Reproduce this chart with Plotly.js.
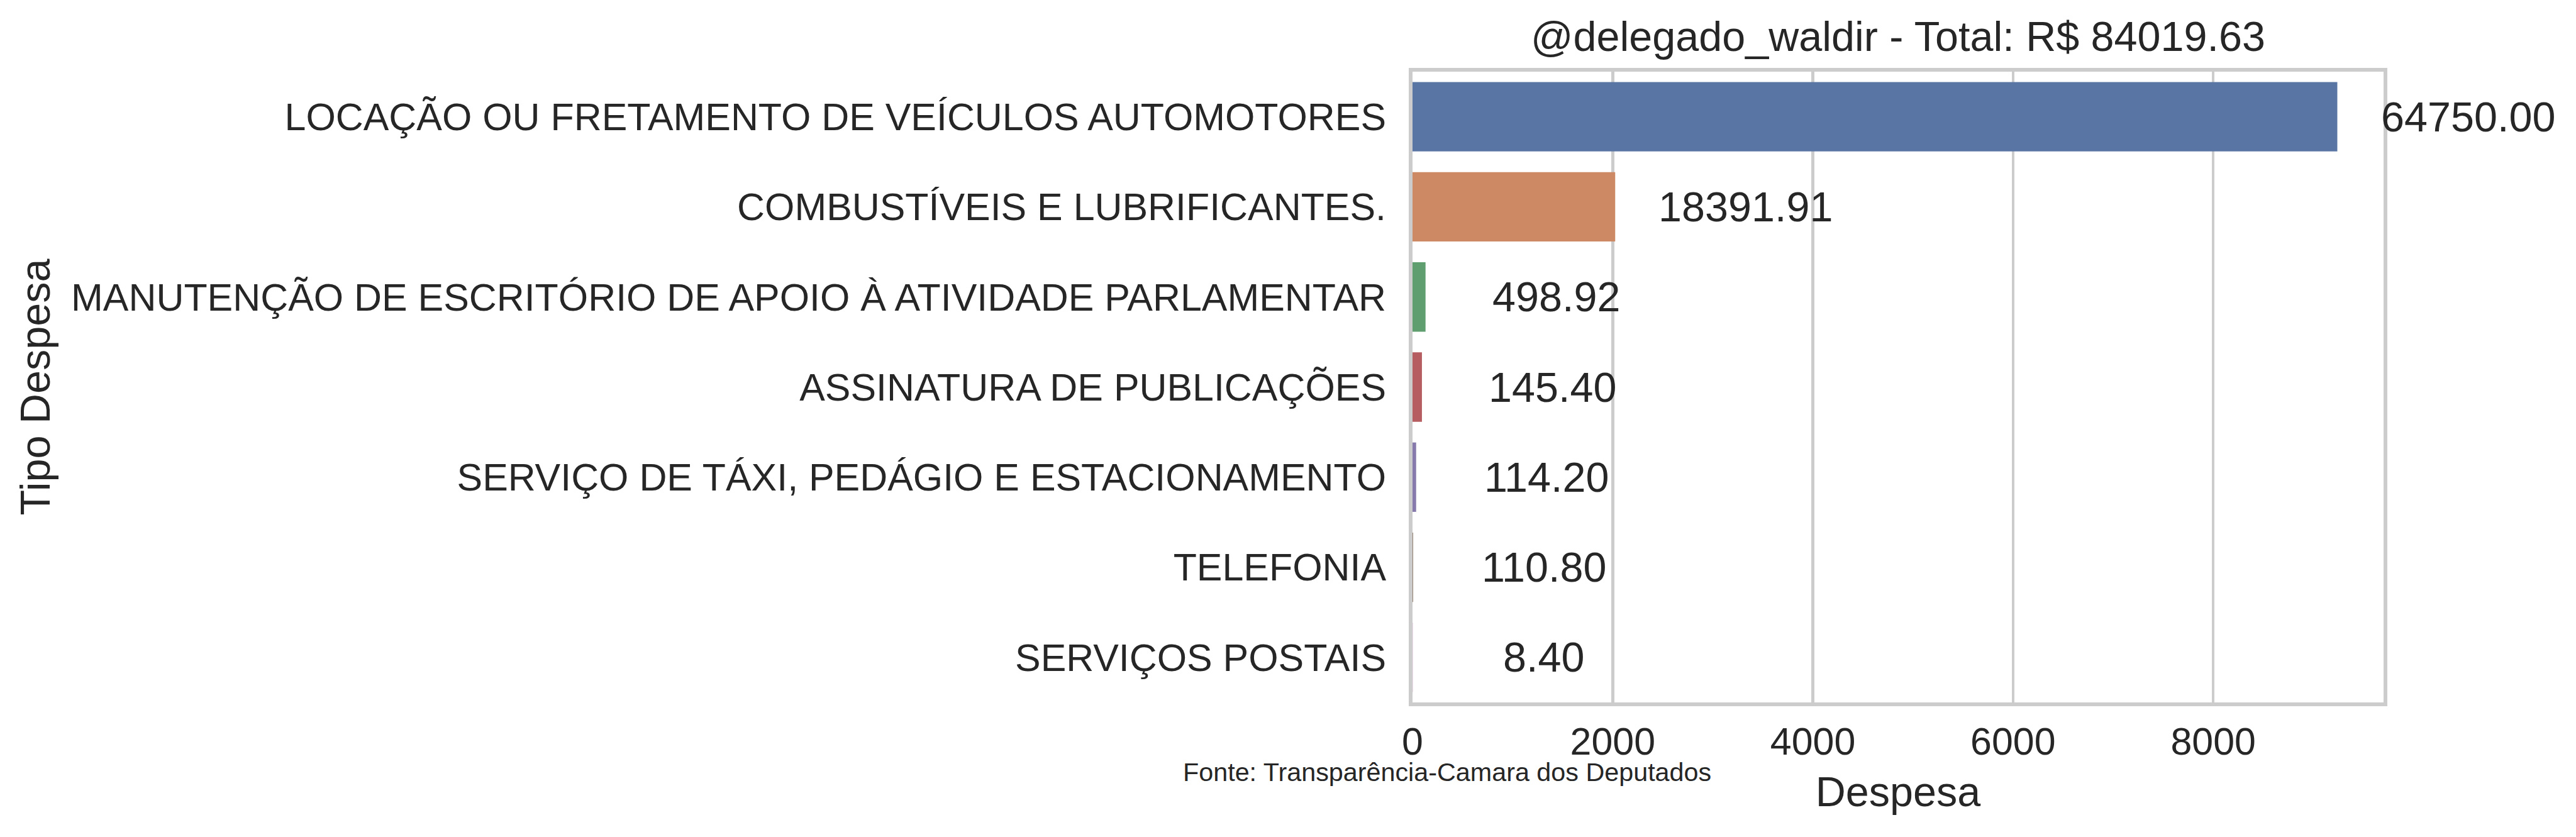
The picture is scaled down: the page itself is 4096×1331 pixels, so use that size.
<!DOCTYPE html>
<html>
<head>
<meta charset="utf-8">
<script src="https://cdn.plot.ly/plotly-3.0.1.min.js"></script>
<style>
  html, body { margin: 0; padding: 0; background: #ffffff; }
  #chart { width: 4096px; height: 1331px; }
</style>
</head>
<body>
<div id="chart"></div>
<script>
// ---- data ----
const categories = [
  "LOCAÇÃO OU FRETAMENTO DE VEÍCULOS AUTOMOTORES",
  "COMBUSTÍVEIS E LUBRIFICANTES.",
  "MANUTENÇÃO DE ESCRITÓRIO DE APOIO À ATIVIDADE PARLAMENTAR",
  "ASSINATURA DE PUBLICAÇÕES",
  "SERVIÇO DE TÁXI, PEDÁGIO E ESTACIONAMENTO",
  "TELEFONIA",
  "SERVIÇOS POSTAIS"
];
// bar lengths as drawn on the x axis
const barValues = [9240, 2025, 130, 94, 36, 6, 2];
// numbers printed next to each bar
const labelTexts = ["64750.00", "18391.91", "498.92", "145.40", "114.20", "110.80", "8.40"];
const xTicks = [0, 2000, 4000, 6000, 8000];
const titleText = "@delegado_waldir - Total: R$ 84019.63";
const sourceText = "Fonte: Transparência-Camara dos Deputados";
const barColors = ["#5975a4", "#cc8963", "#5f9e6e", "#b55d60", "#857aab", "#8d7866", "#d095bf"];

const FONT = "Liberation Sans, Arial, Helvetica, sans-serif";
const INK = "#262626";
const GRID = "#cccccc";

const xMax = Math.max(...barValues) * 1.05;

const trace = {
  type: "bar",
  orientation: "h",
  x: barValues,
  y: categories,
  width: 0.77,
  marker: { color: barColors, line: { width: 0 } },
  hoverinfo: "x+y",
  cliponaxis: true
};

const annotations = categories.map((c, i) => ({
  x: barValues[i],
  y: c,
  xref: "x",
  yref: "y",
  text: labelTexts[i],
  showarrow: false,
  xanchor: "center",
  yanchor: "middle",
  xshift: 207.7,
  font: { family: FONT, size: 66.5, color: INK }
}));

annotations.push({
  x: 0.0354,
  y: -0.111,
  xref: "paper",
  yref: "paper",
  text: sourceText,
  showarrow: false,
  xanchor: "center",
  yanchor: "middle",
  font: { family: FONT, size: 41.3, color: INK }
});

const layout = {
  width: 4096,
  height: 1331,
  paper_bgcolor: "#ffffff",
  plot_bgcolor: "#ffffff",
  showlegend: false,
  margin: { l: 2246, r: 305.5, t: 114, b: 213.7, pad: 0 },
  font: { family: FONT, color: INK },
  title: {
    text: titleText,
    font: { family: FONT, size: 66.5, color: INK },
    x: 0.5,
    xref: "paper",
    xanchor: "center",
    y: 1,
    yref: "paper",
    yanchor: "bottom",
    pad: { b: 33 }
  },
  xaxis: {
    range: [0, xMax],
    tickvals: xTicks,
    ticktext: xTicks.map(String),
    showgrid: true,
    gridcolor: GRID,
    gridwidth: 4.6,
    zeroline: false,
    showline: true,
    linecolor: GRID,
    linewidth: 5.8,
    mirror: true,
    ticks: "",
    ticklabelstandoff: 4,
    tickfont: { family: FONT, size: 60.9, color: INK },
    automargin: false,
    title: {
      text: "Despesa",
      font: { family: FONT, size: 66.5, color: INK },
      standoff: 25
    }
  },
  yaxis: {
    type: "category",
    categoryorder: "array",
    categoryarray: categories,
    range: [categories.length - 0.5, -0.5],
    showgrid: false,
    zeroline: false,
    showline: true,
    linecolor: GRID,
    linewidth: 5.8,
    mirror: true,
    ticks: "",
    ticklabelstandoff: 24,
    tickfont: { family: FONT, size: 60.9, color: INK },
    automargin: false,
    title: {
      text: "Tipo Despesa",
      font: { family: FONT, size: 66.5, color: INK },
      standoff: 14
    }
  },
  annotations: annotations
};

Plotly.newPlot("chart", [trace], layout, { staticPlot: true, displayModeBar: false });
</script>
</body>
</html>
